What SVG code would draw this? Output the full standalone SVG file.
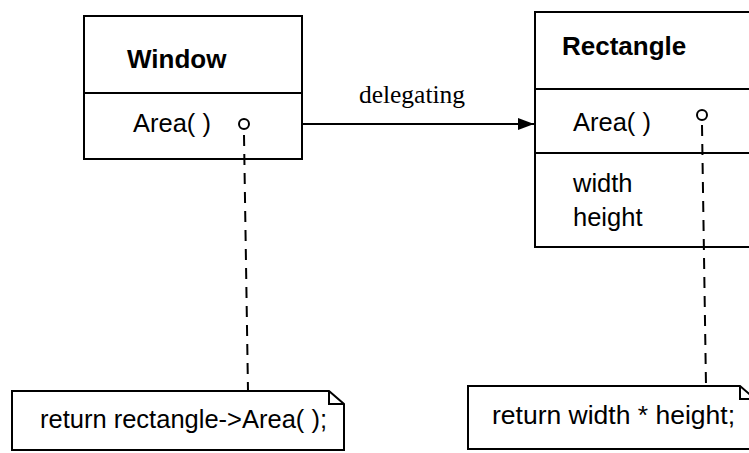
<svg xmlns="http://www.w3.org/2000/svg" width="749" height="453" viewBox="0 0 749 453">
  <style>
    .box { fill: #fff; stroke: #000; stroke-width: 2; }
    .line { stroke: #000; stroke-width: 2; fill: none; }
    .dash { stroke: #000; stroke-width: 2; fill: none; stroke-dasharray: 11 8; }
    .title { font-family: "Liberation Sans", Arial, sans-serif; font-weight: bold; font-size: 26px; fill: #000; }
    .txt { font-family: "Liberation Sans", Arial, sans-serif; font-size: 25.5px; fill: #000; }
    .label { font-family: "Liberation Serif", "Times New Roman", serif; font-size: 25.5px; fill: #000; }
    .port { fill: #fff; stroke: #000; stroke-width: 2; }
  </style>
  <defs>
    <marker id="arrow" viewBox="0 0 16 12" refX="16" refY="6" markerWidth="16" markerHeight="12" markerUnits="userSpaceOnUse" orient="auto">
      <path d="M0,0 L16,6 L0,12 z" fill="#000"/>
    </marker>
  </defs>
  <rect width="749" height="453" fill="#fff"/>

  <g id="window">
    <rect class="box" x="84" y="16" width="218" height="143"/>
    <line class="line" x1="84" y1="93" x2="302" y2="93"/>
    <text class="title" x="127" y="68">Window</text>
    <text class="txt" x="133" y="132">Area( )</text>
  </g>

  <g id="rectangle">
    <rect class="box" x="535" y="12" width="230" height="235"/>
    <line class="line" x1="535" y1="89" x2="765" y2="89"/>
    <line class="line" x1="535" y1="153" x2="765" y2="153"/>
    <text class="title" x="562" y="55">Rectangle</text>
    <text class="txt" x="573" y="131">Area( )</text>
    <text class="txt" x="573" y="192">width</text>
    <text class="txt" x="573" y="226">height</text>
  </g>

  <g id="note-window">
    <path class="box" d="M12,391 L329,391 L344,404 L344,450 L12,450 Z"/>
    <path class="line" d="M329,391 L329,404 L344,404"/>
    <text class="txt" x="40" y="428">return rectangle-&gt;Area( );</text>
  </g>

  <g id="note-rectangle">
    <path class="box" d="M468,386 L740,386 L755,399 L755,449 L468,449 Z"/>
    <path class="line" d="M740,386 L740,399 L755,399"/>
    <text class="txt" x="492" y="424" style="font-size:26.5px">return width * height;</text>
  </g>

  <g id="connectors">
    <line class="line" x1="303" y1="124" x2="534" y2="124" marker-end="url(#arrow)"/>
    <text class="label" x="412" y="103" text-anchor="middle">delegating</text>
    <line class="dash" x1="244" y1="135" x2="248" y2="391"/>
    <line class="dash" x1="702" y1="125" x2="706" y2="386"/>
    <circle class="port" cx="244" cy="124" r="5"/>
    <circle class="port" cx="702" cy="115" r="5"/>
  </g>
</svg>
